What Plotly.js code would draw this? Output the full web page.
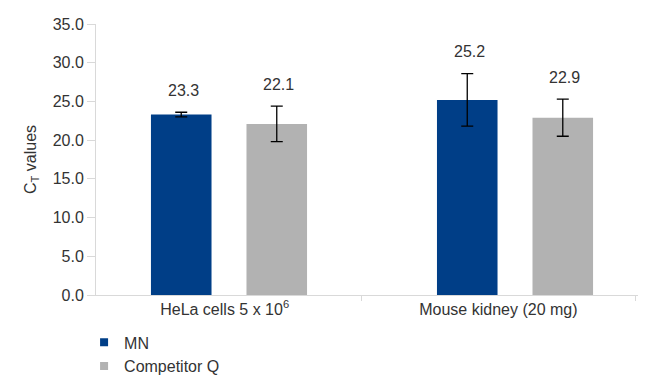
<!DOCTYPE html>
<html>
<head>
<meta charset="utf-8">
<script src="https://cdn.plot.ly/plotly-3.0.1.min.js"></script>
<style>html,body{margin:0;padding:0;background:#fff;}#chart{width:648px;height:388px;}</style>
</head>
<body>
<div id="chart"></div>
<script>
// Data
const categories = ["HeLa cells 5 x 10<sup>6</sup>", "Mouse kidney (20 mg)"];
const seriesNames = ["MN", "Competitor Q"];
const mnValues = [23.3, 25.2];
const mnErrors = [0.3, 3.4];
const qValues = [22.1, 22.9];
const qErrors = [2.3, 2.4];
const yTickVals = [0, 5, 10, 15, 20, 25, 30, 35];

const FONT = "Liberation Sans, Arial, sans-serif";
const TXT = "#333333";
const AXIS = "#d9d9d9";
const colors = ["#003e87", "#b2b2b2"];

const errStyle = {type: "data", visible: true, color: "#000000", thickness: 1.3, width: 6};

const traces = [
  {type: "bar", name: seriesNames[0], x: categories, y: mnValues, xaxis: "x", yaxis: "y",
   marker: {color: colors[0]}, error_y: Object.assign({array: mnErrors}, errStyle),
   hoverinfo: "skip", showlegend: false},
  {type: "bar", name: seriesNames[1], x: categories, y: qValues, xaxis: "x", yaxis: "y",
   marker: {color: colors[1]}, error_y: Object.assign({array: qErrors}, errStyle),
   hoverinfo: "skip", showlegend: false},
  {type: "scatter", mode: "markers", x: categories, y: [0, 0], xaxis: "x2", yaxis: "y",
   marker: {opacity: 0}, showlegend: false, hoverinfo: "skip"},
  // legend entries (small square keys like the reference)
  {type: "scatter", mode: "markers", name: seriesNames[0], x: [null], y: [null], xaxis: "x", yaxis: "y",
   marker: {symbol: "square", size: 8, color: colors[0]}, showlegend: true, hoverinfo: "skip"},
  {type: "scatter", mode: "markers", name: seriesNames[1], x: [null], y: [null], xaxis: "x", yaxis: "y",
   marker: {symbol: "square", size: 8, color: colors[1]}, showlegend: true, hoverinfo: "skip"}
];

const annotations = [];
const shifts = [-47.75, 47.75];
[[mnValues, mnErrors], [qValues, qErrors]].forEach(([vals, errs], s) => {
  vals.forEach((v, i) => {
    annotations.push({
      x: categories[i], y: v + errs[i], xref: "x", yref: "y",
      text: v.toFixed(1), showarrow: false, xshift: shifts[s] + 2, yshift: 22,
      yanchor: "middle", font: {family: FONT, size: 16, color: TXT}
    });
  });
});

const layout = {
  width: 648, height: 388,
  margin: {l: 96, r: 10, t: 24, b: 93, autoexpand: false},
  paper_bgcolor: "#ffffff", plot_bgcolor: "#ffffff",
  font: {family: FONT, size: 16, color: TXT},
  barmode: "group", bargap: 0.332, bargroupgap: 0.366,
  showlegend: true,
  legend: {x: -0.022, y: -0.112, xanchor: "left", yanchor: "top", orientation: "v",
           font: {family: FONT, size: 16, color: TXT}, tracegroupgap: 0, itemwidth: 30,
           bgcolor: "rgba(0,0,0,0)"},
  xaxis: {type: "category", range: [-0.465, 1.43], visible: false, fixedrange: true},
  xaxis2: {type: "category", overlaying: "x", anchor: "y", side: "bottom",
           range: [-0.47, 1.51], showline: true, linecolor: AXIS, linewidth: 1,
           ticks: "outside", tickson: "boundaries", ticklen: 5, tickcolor: AXIS,
           showgrid: false, zeroline: false,
           tickfont: {family: FONT, size: 16, color: TXT}},
  yaxis: {range: [0, 35], tickvals: yTickVals, tickformat: ".1f",
          showline: true, linecolor: AXIS, linewidth: 1,
          ticks: "outside", ticklen: 8, tickcolor: AXIS,
          showgrid: false, zeroline: false,
          tickfont: {family: FONT, size: 16, color: TXT},
          title: {text: "C<sub>T</sub> values", font: {family: FONT, size: 16, color: TXT}, standoff: 12}},
  annotations: annotations
};

Plotly.newPlot("chart", traces, layout, {displayModeBar: false, staticPlot: true});
</script>
</body>
</html>
